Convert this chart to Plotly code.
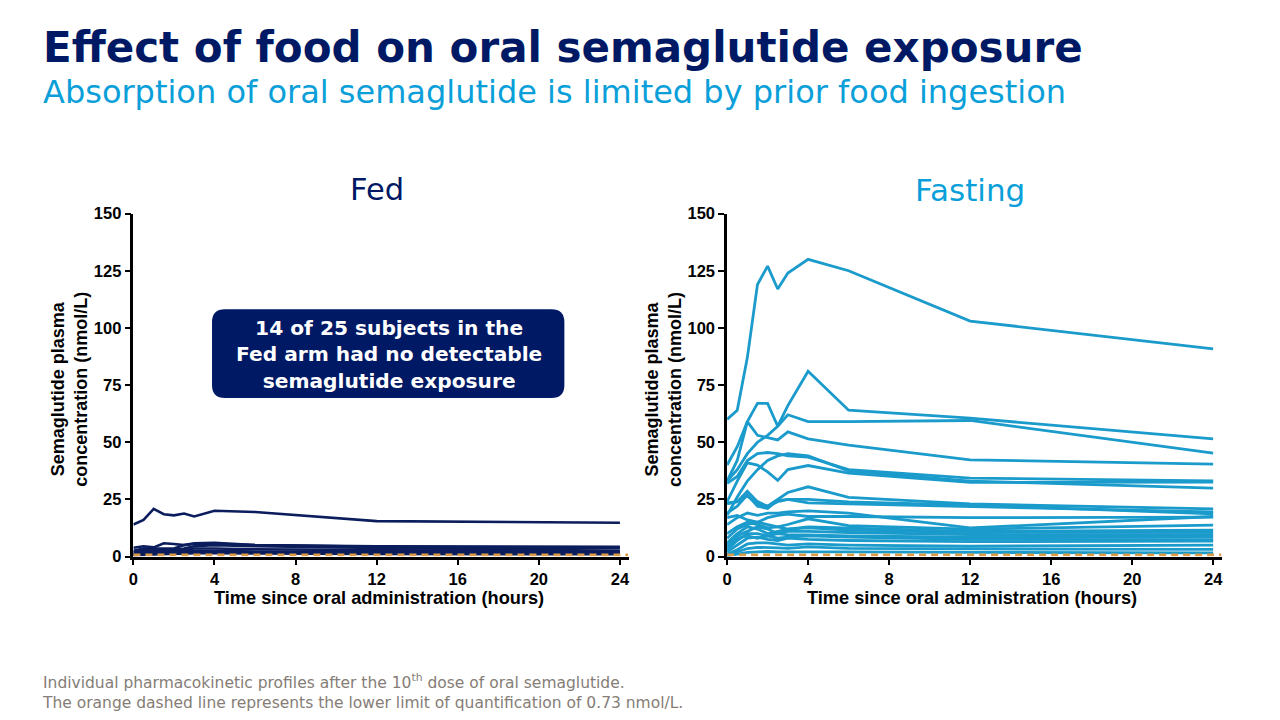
import plotly.graph_objects as go

# ---------------- data ----------------
time_h = [0, 0.5, 1, 1.5, 2, 2.5, 3, 4, 6, 12, 24]
x_ticks = [0, 4, 8, 12, 16, 20, 24]
y_ticks = [0, 25, 50, 75, 100, 125, 150]
lloq = 0.73

fed_profiles = [
    [14, 16, 20.8, 18.5, 18, 18.8, 17.5, 20, 19.5, 15.5, 14.8],
    [3.8, 4.5, 4, 5.8, 5.5, 5, 5.5, 5.6, 5, 4.5, 4.2],
    [2.5, 3.5, 3.5, 3.5, 3.5, 5, 5.8, 6, 5, 4.2, 3.6],
    [2, 3, 3, 3, 3, 3.5, 4.5, 5, 4.5, 3.8, 2.5],
    [1.5, 2, 2, 2, 2.5, 3, 3.5, 3.5, 3.2, 2.8, 2],
    [1, 1.5, 1.5, 2, 2, 2.2, 2.5, 2.5, 2.2, 2, 1.5],
    [0.8, 1, 1.2, 1.5, 1.5, 1.8, 2, 2, 1.8, 1.5, 1.2],
    [0.6, 0.8, 1, 1, 1.2, 1.2, 1.5, 1.5, 1.3, 1.1, 1.0],
]

fasting_profiles = [
    [60, 64, 87, 119, 127, 117, 124, 130, 125, 103, 90.8],
    [40, 48, 59, 67, 67, 57, 66, 81, 64, 60.5, 51.5],
    [33, 38, 45, 50, 53, 57, 62, 59, 59, 59.5, 45.2],
    [33, 42, 59, 53, 52, 51, 54.5, 51.5, 48.7, 42.3, 40.4],
    [32, 35, 42, 45, 45.5, 45, 44, 43.5, 38, 34.3, 33.1],
    [24, 33, 41, 40, 37, 33.3, 38, 39.8, 36.5, 32.4, 32.5],
    [18, 26, 33, 38, 42, 44, 45, 44, 37.5, 33, 29.9],
    [23, 24, 28.5, 24, 22, 25, 28, 30.5, 25.9, 23, 20.8],
    [23.5, 24, 26.5, 23, 22, 24, 25, 25, 23.9, 22.5, 18.7],
    [19, 22, 27, 22, 21, 24.5, 25, 23.5, 23, 21.9, 19.5],
    [14, 17, 19, 18, 19, 19, 19.5, 20, 19, 12.5, 17.5],
    [17, 18, 16, 15, 17, 18, 18.5, 17.5, 17.5, 17, 17.2],
    [10, 13, 15, 14, 12.5, 13, 14, 16.5, 13.5, 12, 13.7],
    [8, 12, 14, 15, 14, 13, 12, 13, 12.5, 11, 11.5],
    [6, 10, 13, 12, 10, 11, 12, 12.5, 11.5, 10.5, 10.6],
    [5, 9, 11, 13, 12, 10, 11, 11, 10.5, 9.6, 9.6],
    [3, 7, 10, 10, 9, 10, 9.5, 9.5, 9, 8.5, 8.6],
    [4, 8, 9, 8, 9, 8, 8.5, 9, 8.5, 7.5, 7.4],
    [2, 5, 8, 8.5, 7.5, 7, 8, 7.5, 7, 6.5, 6.7],
    [1, 3, 5.5, 6, 6, 5.5, 5, 5.5, 5, 4.5, 5.0],
    [0.5, 2, 3.5, 4, 4, 3.8, 3.6, 4.2, 3.6, 3.3, 3.1],
    [0.3, 1, 1.8, 2, 2.2, 2, 2, 2.2, 2, 1.8, 1.6],
]

# ---------------- styles ----------------
NAVY = "#001965"
FED_LINE = "#0B1D5C"
FAST_LINE = "#1A9BCB"
LIGHT_BLUE = "#0A9FD9"
ORANGE = "#DC9A45"
GREY = "#857D76"
W, H = 1280, 720
Y_SCALE, Y_OFF = 0.978, 7.8   # compensation for the vertical page fit


def px_x(p):
    return p / W


def px_y(p):
    return 1 - ((p - Y_OFF) / Y_SCALE) / H


fig = go.Figure()

for prof in fed_profiles:
    fig.add_trace(go.Scatter(x=time_h, y=prof, mode="lines",
                             line=dict(color=FED_LINE, width=2.6),
                             xaxis="x", yaxis="y", showlegend=False, hoverinfo="skip"))
for prof in fasting_profiles:
    fig.add_trace(go.Scatter(x=time_h, y=prof, mode="lines",
                             line=dict(color=FAST_LINE, width=2.8),
                             xaxis="x2", yaxis="y2", showlegend=False, hoverinfo="skip"))
for xa, ya in (("x", "y"), ("x2", "y2")):
    fig.add_trace(go.Scatter(x=[0, 24.4], y=[lloq, lloq], mode="lines",
                             line=dict(color=ORANGE, width=2.6, dash="7px,5px"),
                             xaxis=xa, yaxis=ya, showlegend=False, hoverinfo="skip"))

tick_font = dict(family="Liberation Sans, Arial, sans-serif", size=16.5, color="black", weight="bold")
axis_common = dict(showline=True, linecolor="black", linewidth=2.5, ticks="outside",
                   ticklen=6, tickwidth=2, tickcolor="black", showgrid=False,
                   zeroline=False, tickfont=tick_font, fixedrange=True)

y_dom = [px_y(557), px_y(213)]
fig.update_layout(
    width=W, height=H, margin=dict(l=0, r=0, t=0, b=0),
    paper_bgcolor="white", plot_bgcolor="white",
    xaxis=dict(domain=[px_x(129), px_x(627)], range=[0, 24.45], tickvals=x_ticks,
               anchor="y", **axis_common),
    yaxis=dict(domain=y_dom, range=[0, 150], tickvals=y_ticks, anchor="x", **axis_common),
    xaxis2=dict(domain=[px_x(725.5), px_x(1223)], range=[0, 24.45], tickvals=x_ticks,
                anchor="y2", **axis_common),
    yaxis2=dict(domain=y_dom, range=[0, 150], tickvals=y_ticks, anchor="x2", **axis_common),
)


def ann(text, x, y, size, color, family="DejaVu Sans, Verdana, sans-serif", weight="normal",
        xanchor="center", angle=0, align="center"):
    fig.add_annotation(text=text, x=px_x(x), y=px_y(y), xref="paper", yref="paper",
                       xanchor=xanchor, yanchor="middle", showarrow=False, textangle=angle,
                       align=align,
                       font=dict(family=family, size=size, color=color, weight=weight))


# titles
ann("Effect of food on oral semaglutide exposure", 36, 46, 42, NAVY, weight="bold", xanchor="left")
ann("Absorption of oral semaglutide is limited by prior food ingestion", 36, 91, 32, LIGHT_BLUE,
    xanchor="left")
ann("Fed", 374, 189, 30.5, NAVY)
ann("Fasting", 970, 189, 31, LIGHT_BLUE)

# axis titles
arial_b = "Liberation Sans, Arial, sans-serif"
for cx in (376, 972):
    ann("Time since oral administration (hours)", cx, 599, 18.2, "black", family=arial_b, weight="bold")
for cx in (64, 661):
    ann("Semaglutide plasma<br>concentration (nmol/L)", cx, 389, 18, "black", family=arial_b,
        weight="bold", angle=-90)

# rounded call-out box
x0, x1, y0, y1, r = 208, 562, 309, 398, 13
rx, ry = r / W, r / H
X0, X1, Y0, Y1 = px_x(x0), px_x(x1), px_y(y1), px_y(y0)
path = (f"M {X0+rx},{Y0} L {X1-rx},{Y0} Q {X1},{Y0} {X1},{Y0+ry} L {X1},{Y1-ry} "
        f"Q {X1},{Y1} {X1-rx},{Y1} L {X0+rx},{Y1} Q {X0},{Y1} {X0},{Y1-ry} L {X0},{Y0+ry} "
        f"Q {X0},{Y0} {X0+rx},{Y0} Z")
fig.add_shape(type="path", path=path, xref="paper", yref="paper",
              fillcolor=NAVY, line=dict(width=0), layer="above")
ann("14 of 25 subjects in the<br>Fed arm had no detectable<br>semaglutide exposure", 386, 354, 20.2,
    "white", weight="bold")

# footnote
ann("Individual pharmacokinetic profiles after the 10<sup>th</sup> dose of oral semaglutide.<br>"
    "The orange dashed line represents the lower limit of quantification of 0.73 nmol/L.",
    35, 692, 15.5, GREY, xanchor="left", align="left")

fig.write_html("out.html")
